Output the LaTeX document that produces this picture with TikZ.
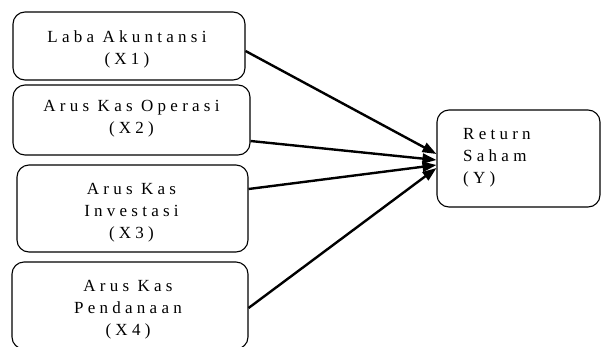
\documentclass[tikz,border=0pt]{standalone}
\usepackage{fontspec}
\setmainfont{Liberation Serif}
\newfontfamily\spaced[LetterSpace=25]{Liberation Serif}
\usetikzlibrary{arrows.meta}
\tikzset{
  box/.style={draw=black, line width=1.1pt, rounded corners=12pt, inner sep=0pt},
  lbl/.style={font=\spaced\fontsize{17}{22}\selectfont, inner sep=0pt},
  conn/.style={line width=2.4pt, -{Triangle[length=14pt,width=10pt]}}
}
\begin{document}
\begin{tikzpicture}[x=1pt,y=-1pt]
\useasboundingbox (0,0) rectangle (602,346);
% boxes
\node[box, minimum width=232pt, minimum height=68pt] (b1) at (129,46) {};
\node[box, minimum width=237pt, minimum height=70pt] (b2) at (131.5,120) {};
\node[box, minimum width=231pt, minimum height=87pt] (b3) at (132.5,208.5) {};
\node[box, minimum width=236pt, minimum height=87pt] (b4) at (130,305.5) {};
\node[box, minimum width=163pt, minimum height=97pt] (y) at (518.5,158.5) {};
% labels
\node[lbl, align=center] (l1) at (127,49.4) {Laba Akuntansi\\(X1)};
\node[lbl, align=center] (l2) at (131.5,119) {Arus Kas Operasi\\(X2)};
\node[lbl, align=center] (l3) at (131.5,213) {Arus Kas\\Investasi\\(X3)};
\node[lbl, align=center] (l4) at (128,310) {Arus Kas\\Pendanaan\\(X4)};
\node[lbl, align=left, anchor=west] (ly) at (463,157.5) {Return\\Saham\\(Y)};
% connectors
\draw[conn] ([yshift=-5pt]b1.east) -- ([yshift=4.5pt]y.west);
\draw[conn] ([yshift=-21pt]b2.east) -- ([yshift=-1.5pt]y.west);
\draw[conn] ([yshift=19.5pt]b3.east) -- ([yshift=-6.5pt]y.west);
\draw[conn] ([yshift=-2.5pt]b4.east) -- ([yshift=-9.5pt]y.west);
\end{tikzpicture}
\end{document}
